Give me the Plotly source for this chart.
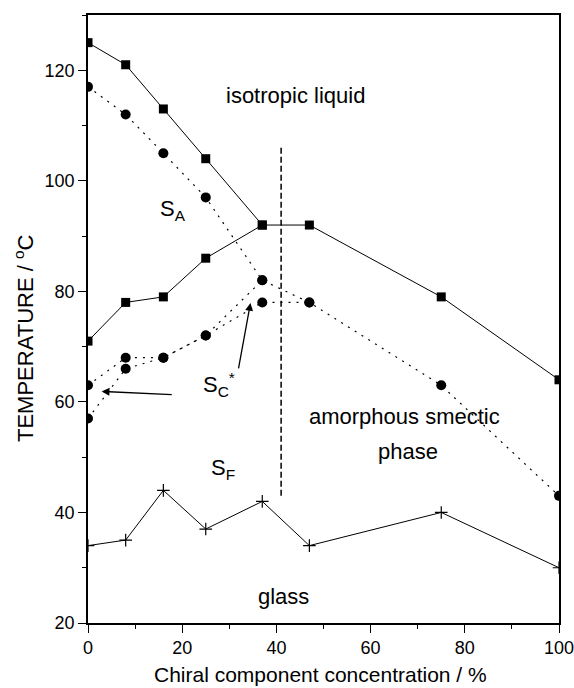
import plotly.graph_objects as go

# ---- data ----
conc = [0, 8, 16, 25, 37, 47, 75, 100]
clearing_T = [125, 121, 113, 104, 92, 92, 79, 64]          # squares, upper solid line
sq_low_x = [0, 8, 16, 25, 37]
sq_low_T = [71, 78, 79, 86, 92]                            # squares, lower solid line
circ_up_T = [117, 112, 105, 97, 82, 78, 63, 43]            # circles, upper dotted line
circ_a_x = [0, 8, 16, 25, 37, 47]
circ_a_T = [63, 68, 68, 72, 78, 78]                        # circles, dotted
circ_b_x = [0, 8, 16, 25, 37]
circ_b_T = [57, 66, 68, 72, 82]                            # circles, dotted
glass_T = [34, 35, 44, 37, 42, 34, 40, 30]                 # crosses, solid line
boundary_x = [41, 41]
boundary_T = [43, 106]                                     # dashed vertical boundary

x_ticks = [0, 20, 40, 60, 80, 100]
y_ticks = [20, 40, 60, 80, 100, 120]

labels = ["isotropic liquid", "S<sub>A</sub>", "S<sub>C</sub><sup>*</sup>", "S<sub>F</sub>",
          "amorphous smectic", "phase", "glass"]
label_x = [44, 18, 27.8, 28.7, 67.3, 68, 41.6]
label_T = [115.5, 94.8, 63.1, 47.8, 57.3, 51.0, 24.8]

# arrows: (head x, head T, tail x, tail T)
arrows = [(2.9, 61.9, 18.1, 61.3), (34.5, 77.9, 31.9, 65.8)]

FONT = "Liberation Sans, Arial, sans-serif"
fig = go.Figure()

dot = "2px,6px"
for xs, ys in [(conc, circ_up_T), (circ_a_x, circ_a_T), (circ_b_x, circ_b_T)]:
    fig.add_trace(go.Scatter(x=xs, y=ys, mode="lines+markers",
                             line=dict(color="black", width=1.2, dash=dot),
                             marker=dict(symbol="circle", size=10, color="black")))
for xs, ys in [(conc, clearing_T), (sq_low_x, sq_low_T)]:
    fig.add_trace(go.Scatter(x=xs, y=ys, mode="lines+markers",
                             line=dict(color="black", width=1),
                             marker=dict(symbol="square", size=9, color="black")))
fig.add_trace(go.Scatter(x=conc, y=glass_T, mode="lines+markers",
                         line=dict(color="black", width=1),
                         marker=dict(symbol="cross-thin", size=9, color="black",
                                     line=dict(color="black", width=1.2))))
fig.add_trace(go.Scatter(x=boundary_x, y=boundary_T, mode="lines",
                         line=dict(color="black", width=1.5, dash="6px,3px")))

for t, x, y in zip(labels, label_x, label_T):
    fig.add_annotation(x=x, y=y, xref="x", yref="y", text=t, showarrow=False,
                       font=dict(family=FONT, size=22, color="black"),
                       xanchor="center", yanchor="middle")
for hx, hy, tx, ty in arrows:
    fig.add_annotation(x=hx, y=hy, ax=tx, ay=ty, xref="x", yref="y",
                       axref="x", ayref="y", text="", showarrow=True,
                       arrowhead=2, arrowsize=1.2, arrowwidth=1.3,
                       arrowcolor="black", standoff=0)

# axis titles placed as annotations (plot area: x 88..559 px, y 15..623 px)
fig.add_annotation(x=(320 - 88) / 471, y=-(674 - 623) / 608, xref="paper", yref="paper",
                   text="Chiral component concentration / %", showarrow=False,
                   font=dict(family=FONT, size=21, color="black"),
                   xanchor="center", yanchor="middle")
fig.add_annotation(x=-(88 - 24) / 471, y=(623 - 338) / 608, xref="paper", yref="paper",
                   text="TEMPERATURE / <sup>o</sup>C", showarrow=False, textangle=-90,
                   font=dict(family=FONT, size=22, color="black"),
                   xanchor="center", yanchor="middle")

axis_common = dict(showgrid=False, zeroline=False, showline=True, linecolor="black",
                   linewidth=1.5, mirror=True, ticks="outside", ticklen=8, tickwidth=1.2,
                   tickcolor="black", ticklabeloverflow="allow", automargin=False,
                   tickfont=dict(family=FONT, size=18, color="black"),
                   minor=dict(ticks="outside", ticklen=4, tickwidth=1, tickcolor="black",
                              dtick=10, showgrid=False))
fig.update_xaxes(range=[0, 100], tickvals=x_ticks, **axis_common)
fig.update_yaxes(range=[20, 130], tickvals=y_ticks, **axis_common)

fig.update_layout(width=574, height=688, showlegend=False,
                  margin=dict(l=88, r=15, t=15, b=65, autoexpand=False),
                  plot_bgcolor="white", paper_bgcolor="white")

fig.write_html("out.html")
